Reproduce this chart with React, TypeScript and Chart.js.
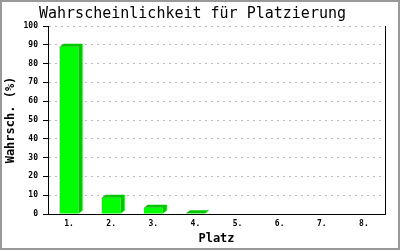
import React, { useEffect, useRef } from "react";
import { Chart, registerables } from "chart.js";

Chart.register(...registerables);

const categories = ["1.", "2.", "3.", "4.", "5.", "6.", "7.", "8."];
const probabilities = [89, 8.7, 3.3, 0.4, 0, 0, 0, 0];
const titleText = "Wahrscheinlichkeit für Platzierung";
const xTitle = "Platz";
const yTitle = "Wahrsch. (%)";

const FRONT = "#00ff00";
const SIDE = "#00c800";
const MONO = "'DejaVu Sans Mono', 'Liberation Mono', monospace";

const bar3d = {
  id: "bar3d",
  afterDatasetsDraw(chart: any) {
    const ctx = chart.ctx;
    const meta = chart.getDatasetMeta(0);
    const dx = 4;
    const dy = 3;
    meta.data.forEach((bar: any, i: number) => {
      if (!(probabilities[i] > 0)) return;
      const { x, y, base, width } = bar.getProps(["x", "y", "base", "width"], true);
      const l = x - width / 2;
      const r = x + width / 2;
      ctx.save();
      ctx.fillStyle = SIDE;
      ctx.beginPath();
      ctx.moveTo(l, y);
      ctx.lineTo(l + dx, y - dy);
      ctx.lineTo(r + dx, y - dy);
      ctx.lineTo(r + dx, base - dy);
      ctx.lineTo(r, base);
      ctx.lineTo(r, y);
      ctx.closePath();
      ctx.fill();
      ctx.restore();
    });
  },
};

const frame = {
  id: "frame",
  beforeDraw(chart: any) {
    const ctx = chart.ctx;
    ctx.save();
    ctx.fillStyle = "#ffffff";
    ctx.fillRect(0, 0, chart.width, chart.height);
    ctx.restore();
  },
  afterDraw(chart: any) {
    const ctx = chart.ctx;
    const a = chart.chartArea;
    ctx.save();
    ctx.strokeStyle = "#000";
    ctx.lineWidth = 1;
    ctx.beginPath();
    ctx.moveTo(Math.round(a.right) + 0.5, a.top);
    ctx.lineTo(Math.round(a.right) + 0.5, a.bottom);
    ctx.stroke();
    ctx.strokeStyle = "#999";
    ctx.lineWidth = 2;
    ctx.strokeRect(1, 1, chart.width - 2, chart.height - 2);
    ctx.restore();
  },
};

export default function App() {
  const ref = useRef<HTMLCanvasElement>(null);
  useEffect(() => {
    document.body.style.margin = "0";
    const chart = new Chart(ref.current!, {
      type: "bar",
      data: {
        labels: categories,
        datasets: [
          {
            data: probabilities,
            backgroundColor: FRONT,
            borderWidth: 0,
            categoryPercentage: 1,
            barPercentage: 0.45,
          },
        ],
      },
      options: {
        responsive: false,
        animation: false,
        layout: { padding: { top: 0, right: 15, bottom: 0, left: 0 } },
        plugins: {
          legend: { display: false },
          tooltip: { enabled: false },
          title: {
            display: true,
            text: titleText,
            color: "#000",
            font: { family: MONO, size: 15, weight: "normal" },
            padding: { top: 5, bottom: 3 },
          },
        },
        scales: {
          x: {
            grid: { display: false, drawTicks: false },
            border: { color: "#000", width: 1 },
            ticks: {
              color: "#000",
              font: { family: MONO, size: 8, weight: "bold" },
              padding: 5,
            },
            title: {
              display: true,
              text: xTitle,
              color: "#000",
              font: { family: MONO, size: 12, weight: "bold" },
              padding: { top: 0, bottom: 4 },
            },
            afterFit: (s: any) => {
              s.height = 36;
            },
          },
          y: {
            min: 0,
            max: 100,
            ticks: {
              stepSize: 10,
              color: "#000",
              font: { family: MONO, size: 8, weight: "bold" },
              padding: 5,
            },
            grid: {
              color: "#bbbbbb",
              tickColor: "#000",
              tickLength: 5,
              tickBorderDash: [],
            },
            border: { color: "#000", width: 1, dash: [2, 4] },
            title: {
              display: true,
              text: yTitle,
              color: "#000",
              font: { family: MONO, size: 12, weight: "bold" },
              padding: { top: 4, bottom: 0 },
            },
            afterFit: (s: any) => {
              s.width = 48;
            },
          },
        },
      },
      plugins: [bar3d, frame],
    });
    return () => chart.destroy();
  }, []);
  return (
    <div style={{ width: 400, height: 250 }}>
      <canvas ref={ref} width={400} height={250} />
    </div>
  );
}
